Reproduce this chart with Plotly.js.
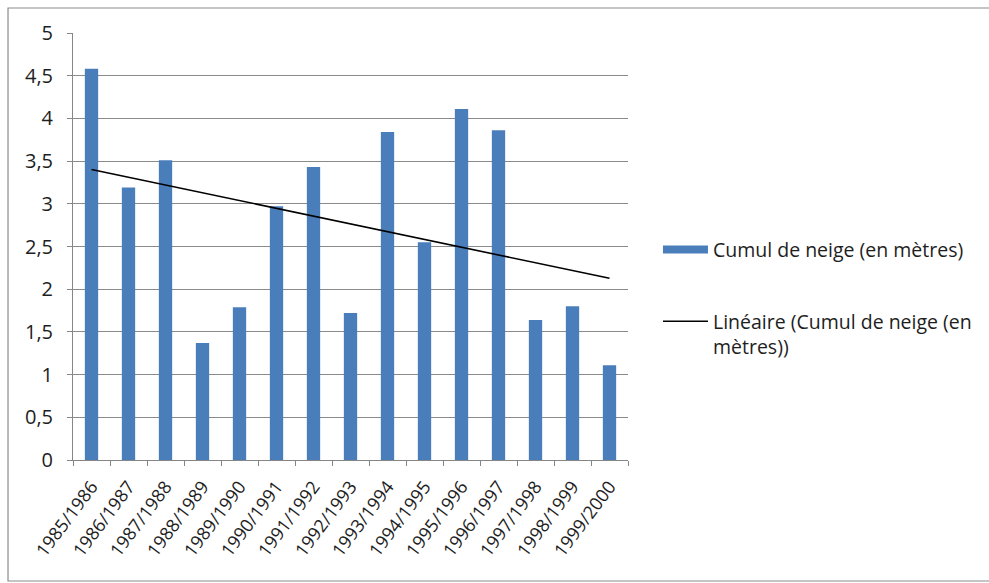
<!DOCTYPE html>
<html>
<head>
<meta charset="utf-8">
<script src="https://cdn.plot.ly/plotly-3.0.1.min.js"></script>
<style>
  html, body { margin: 0; padding: 0; background: #fff; }
  #chart { width: 989px; height: 583px; }
</style>
</head>
<body>
<div id="chart"></div>
<script>
const seasons = ["1985/1986","1986/1987","1987/1988","1988/1989","1989/1990","1990/1991","1991/1992","1992/1993","1993/1994","1994/1995","1995/1996","1996/1997","1997/1998","1998/1999","1999/2000"];
const snow = [4.58, 3.19, 3.51, 1.37, 1.79, 2.97, 3.43, 1.72, 3.84, 2.55, 4.11, 3.86, 1.64, 1.80, 1.11];
const yTicks = [0, 0.5, 1, 1.5, 2, 2.5, 3, 3.5, 4, 4.5, 5];
const barName = "Cumul de neige (en mètres)";
const trendName = "Linéaire (Cumul de neige (en<br>mètres))";

// least-squares linear trend over the bar values
const n = snow.length;
const idx = snow.map((_, i) => i);
const mx = idx.reduce((a, b) => a + b, 0) / n;
const my = snow.reduce((a, b) => a + b, 0) / n;
let sxy = 0, sxx = 0;
for (let i = 0; i < n; i++) { sxy += (i - mx) * (snow[i] - my); sxx += (i - mx) * (i - mx); }
const slope = sxy / sxx;
const trend = idx.map(i => my + slope * (i - mx));

const FAM = "'Open Sans', 'Liberation Sans', sans-serif";
const TXT = "#1e1e1e";
const BLUE = "#4a7ebb";

const data = [
  { type: "bar", x: seasons, y: snow, name: barName, showlegend: false,
    marker: { color: BLUE } },
  // legend entry for the bar series (wide swatch, as in the reference)
  { type: "scatter", mode: "lines", x: [null], y: [null], name: barName,
    line: { color: BLUE, width: 8 }, legend: "legend" },
  { type: "scatter", mode: "lines", x: seasons, y: trend, name: trendName,
    line: { color: "#000", width: 1.6 }, legend: "legend2" }
];

const legBase = { xanchor: "left", yanchor: "middle",
  font: { family: FAM, size: 19.5, color: TXT },
  itemwidth: 45, bgcolor: "rgba(0,0,0,0)", borderwidth: 0 };

const layout = {
  width: 989, height: 583,
  margin: { l: 73, r: 361, t: 33, b: 123 },
  paper_bgcolor: "#fff", plot_bgcolor: "#fff",
  separators: ", ",
  font: { family: FAM, size: 18, color: TXT },
  bargap: 0.64,
  showlegend: true,
  legend: Object.assign({}, legBase, { x: 1.054, y: 0.492 }),
  legend2: Object.assign({}, legBase, { x: 1.054, y: 0.295, valign: "top" }),
  xaxis: { type: "category", tickangle: -53, showgrid: false,
           showline: true, linecolor: "#868686", linewidth: 1,
           ticks: "outside", tickson: "boundaries", ticklen: 5, tickcolor: "#868686",
           ticklabelstandoff: 8,
           tickfont: { family: FAM, size: 18, color: TXT } },
  yaxis: { range: [0, 5], tickvals: yTicks, showgrid: true, gridcolor: "#8a8a8a", gridwidth: 1,
           showline: true, linecolor: "#868686", linewidth: 1,
           ticks: "outside", ticklen: 5, tickcolor: "#868686", zeroline: false,
           ticklabelstandoff: 10,
           tickfont: { family: FAM, size: 20, color: TXT } },
  shapes: [
    { type: "rect", xref: "paper", yref: "paper",
      x0: -0.1171, x1: 1.661, y0: -0.2834, y1: 1.0585,
      line: { color: "#8c8c8c", width: 1.2 }, fillcolor: "rgba(0,0,0,0)" }
  ]
};

Plotly.newPlot("chart", data, layout, { staticPlot: true });
</script>
</body>
</html>
